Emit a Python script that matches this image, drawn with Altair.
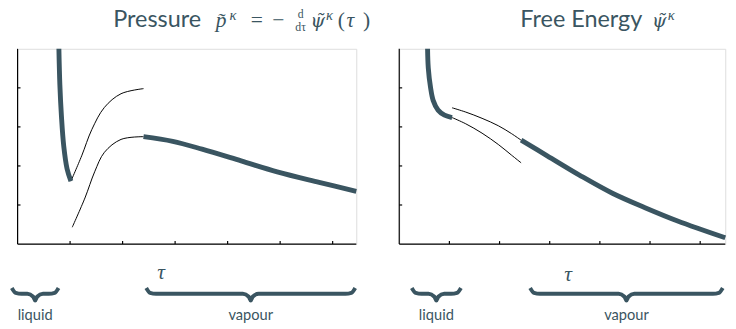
import altair as alt
import pandas as pd

SLATE = "#3a5561"
AXIS = "#000000"
SERIF = "Liberation Serif"
MATH = "DejaVu Serif"
SANS = "Lato"

# ---------------- Pressure panel (left) ----------------
p_liq_tau = [0.787, 0.805, 0.836, 0.879, 0.942, 1.016]
p_liq_val = [5.0, 4.09, 3.26, 2.51, 1.93, 1.61]
p_up_tau = [1.016, 1.221, 1.413, 1.654, 1.970, 2.398]
p_up_val = [1.61, 2.26, 2.93, 3.50, 3.85, 3.98]
p_lo_tau = [1.041, 1.283, 1.468, 1.654, 1.970, 2.398]
p_lo_val = [0.43, 1.18, 1.85, 2.35, 2.68, 2.75]
p_vap_tau = [2.398, 2.955, 3.513, 4.257, 4.944, 5.743, 6.45]
p_vap_val = [2.75, 2.63, 2.43, 2.13, 1.85, 1.58, 1.35]

# ---------------- Free energy panel (right) ----------------
f_liq_tau = [0.565, 0.579, 0.624, 0.676, 0.774, 0.903, 1.053]
f_liq_val = [5.0, 4.51, 4.01, 3.68, 3.43, 3.30, 3.24]
f_lo_tau = [1.053, 1.326, 1.651, 1.975, 2.236, 2.43]
f_lo_val = [3.24, 3.08, 2.84, 2.55, 2.28, 2.08]
f_up_tau = [1.053, 1.326, 1.651, 1.975, 2.236, 2.43]
f_up_val = [3.49, 3.38, 3.22, 3.03, 2.83, 2.66]
f_vap_tau = [2.43, 2.95, 3.60, 4.25, 4.90, 5.55, 6.5]
f_vap_val = [2.66, 2.26, 1.76, 1.30, 0.93, 0.59, 0.16]

x_ticks = [1, 2, 3, 4, 5, 6]
y_ticks = [1, 2, 3, 4]

brace_labels = ["liquid", "vapour"]
p_brace_start = [-0.11, 2.45]
p_brace_end = [0.78, 6.43]
f_brace_start = [0.25, 2.61]
f_brace_end = [1.23, 6.45]

BR_TOP, BR_BAR, BR_TIP, LABEL_Y = -1.125, -1.275, -1.45, -1.95


def brace_rows(starts, ends, px_per_unit):
    rows = []
    u = 1.0 / px_per_unit
    for i, (a, b) in enumerate(zip(starts, ends)):
        m = (a + b) / 2
        pts = [
            (a, BR_TOP), (a + 4 * u, BR_BAR + 0.025), (a + 10 * u, BR_BAR),
            (m - 8 * u, BR_BAR), (m - 2 * u, BR_BAR - 0.075), (m, BR_TIP),
            (m + 2 * u, BR_BAR - 0.075), (m + 8 * u, BR_BAR),
            (b - 10 * u, BR_BAR), (b - 4 * u, BR_BAR + 0.025), (b, BR_TOP),
        ]
        for x, y in pts:
            rows.append({"bx": x, "by": y, "bid": i})
    return pd.DataFrame(rows)


def text_piece(text, x, y, size, font, style="normal", align="left"):
    return alt.Chart(pd.DataFrame({"t": [text]})).mark_text(
        font=font, fontSize=size, fontStyle=style, color=SLATE,
        align=align, baseline="alphabetic"
    ).encode(x=alt.value(x), y=alt.value(y), text="t:N")


def panel(curves, b_start, b_end, xmax, width, pieces):
    height = 200
    xs = alt.Scale(domain=[0, xmax], nice=False, zero=False)
    ys = alt.Scale(domain=[0, 5], nice=False, zero=False)
    rows = []
    for seg, (kind, t, v) in enumerate(curves):
        for a, b in zip(t, v):
            rows.append({"tau": a, "value": b, "seg": seg, "kind": kind})
    df = pd.DataFrame(rows)

    thin = alt.Chart(df).transform_filter(alt.datum.kind == "thin").mark_line(
        color="#000000", strokeWidth=1, interpolate="catmull-rom"
    ).encode(x=alt.X("tau:Q", scale=xs, axis=None),
             y=alt.Y("value:Q", scale=ys, axis=None),
             detail="seg:N")
    thick = alt.Chart(df).transform_filter(alt.datum.kind == "thick").mark_line(
        color=SLATE, strokeWidth=5, interpolate="catmull-rom"
    ).encode(x=alt.X("tau:Q", scale=xs, axis=None),
             y=alt.Y("value:Q", scale=ys, axis=None),
             detail="seg:N")

    # axis lines
    yline = alt.Chart(pd.DataFrame({"a": [0]})).mark_rule(color=AXIS, strokeWidth=1.2).encode(
        x=alt.value(0), y=alt.value(0), y2=alt.value(height))
    xline = alt.Chart(pd.DataFrame({"a": [0]})).mark_rule(color=AXIS, strokeWidth=1.2).encode(
        x=alt.value(0), x2=alt.value(width), y=alt.value(height))

    xt = alt.Chart(pd.DataFrame({"t": x_ticks})).mark_rule(color=AXIS, strokeWidth=1.2).encode(
        x=alt.X("t:Q", scale=xs, axis=None), y=alt.value(height), y2=alt.value(height - 3))
    yt = alt.Chart(pd.DataFrame({"t": y_ticks})).mark_rule(color=AXIS, strokeWidth=1.2).encode(
        y=alt.Y("t:Q", scale=ys, axis=None), x=alt.value(0), x2=alt.value(3))

    px_per_unit = width / xmax
    bdf = brace_rows(b_start, b_end, px_per_unit)
    braces = alt.Chart(bdf).mark_line(color=SLATE, strokeWidth=4, interpolate="monotone").encode(
        x=alt.X("bx:Q", scale=xs, axis=None), y=alt.Y("by:Q", scale=ys, axis=None),
        detail="bid:N")

    ldf = pd.DataFrame({"label": brace_labels,
                        "mid": [(a + b) / 2 for a, b in zip(b_start, b_end)],
                        "ly": [LABEL_Y] * len(brace_labels)})
    labels = alt.Chart(ldf).mark_text(font=SANS, fontSize=15, color=SLATE,
                                      align="center", baseline="alphabetic").encode(
        x=alt.X("mid:Q", scale=xs, axis=None), y=alt.Y("ly:Q", scale=ys, axis=None),
        text="label:N")

    layers = [thin, thick, yline, xline, xt, yt, braces, labels] + [text_piece(*p) for p in pieces]
    return alt.layer(*layers).properties(width=width, height=height)


left_pieces = [
    ("Pressure", 98, -22, 24, SANS),
    ("p̃", 203, -22, 22, SERIF, "italic"),
    ("κ", 217, -30, 15, SERIF, "italic"),
    ("=", 239, -22, 22, SERIF),
    ("−", 261, -22, 22, SERIF),
    ("d", 290, -32, 12, SERIF, "normal", "center"),
    ("dτ", 290, -18, 12, SERIF, "normal", "center"),
    ("ψ̃", 300, -22, 19, MATH, "italic"),
    ("κ", 316, -30, 15, SERIF, "italic"),
    ("(", 328, -22, 22, SERIF),
    ("τ", 337, -22, 22, SERIF, "italic"),
    (")", 354, -22, 22, SERIF),
    ("τ", 147, 236, 22, SERIF, "italic", "center"),
]
right_pieces = [
    ("Free Energy", 124, -22, 24, SANS),
    ("ψ̃", 259, -22, 19, MATH, "italic"),
    ("κ", 275, -30, 15, SERIF, "italic"),
    ("τ", 173, 238, 22, SERIF, "italic", "center"),
]

left = panel(
    [("thick", p_liq_tau, p_liq_val), ("thin", p_up_tau, p_up_val),
     ("thin", p_lo_tau, p_lo_val), ("thick", p_vap_tau, p_vap_val)],
    p_brace_start, p_brace_end, 6.45, 347, left_pieces)
right = panel(
    [("thick", f_liq_tau, f_liq_val), ("thin", f_lo_tau, f_lo_val),
     ("thin", f_up_tau, f_up_val), ("thick", f_vap_tau, f_vap_val)],
    f_brace_start, f_brace_end, 6.5, 334, right_pieces)

chart = alt.hconcat(left, right, spacing=44, bounds="flush").properties(
    padding={"left": 3, "top": 3, "right": 0, "bottom": 0}
).configure_view(strokeWidth=0).configure(background="white")

chart.save("out.html", embed_options={"renderer": "svg", "actions": False})
